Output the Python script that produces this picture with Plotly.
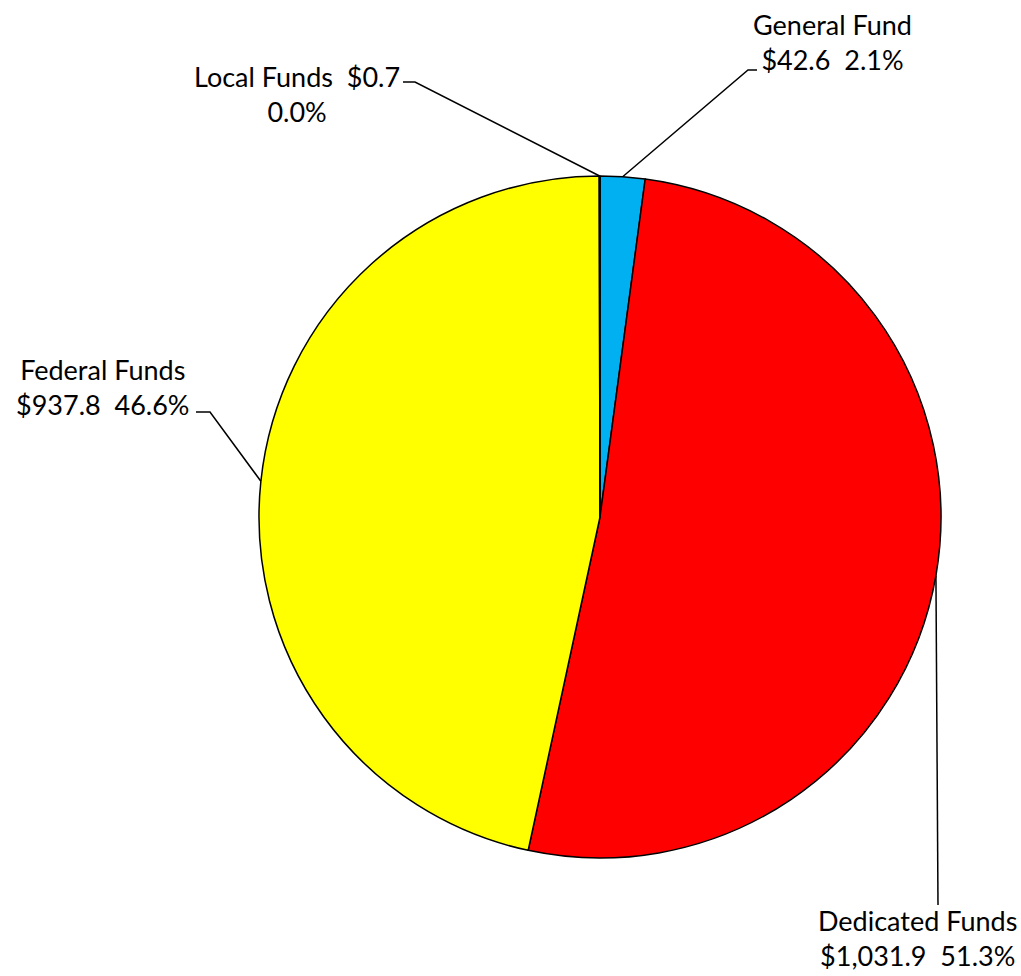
import math
import plotly.graph_objects as go

# ---- data ----
categories = ["General Fund", "Dedicated Funds", "Federal Funds", "Local Funds"]
values = [42.6, 1031.9, 937.8, 0.7]
colors = ["#00B0F0", "#FF0000", "#FFFF00", "#4472C4"]

W, H = 1021, 976
CX, CY, R = 600, 517, 341  # pie centre / radius in pixels

def px(x):
    return x / W

def py(y):
    return 1 - y / H

total = sum(values)
pcts = [v / total * 100 for v in values]

def money(v):
    return "${:,.1f}".format(v)

fig = go.Figure()
fig.add_trace(go.Pie(
    labels=categories,
    values=values,
    sort=False,
    direction="clockwise",
    rotation=0,
    marker=dict(colors=colors, line=dict(color="black", width=1.5)),
    textinfo="none",
    hoverinfo="label+value+percent",
    showlegend=False,
    domain=dict(x=[px(CX - R), px(CX + R)], y=[py(CY + R), py(CY - R)]),
))

# label layout: (text-block centre x, y), elbow point, end point of leader
label_layout = {
    "General Fund": dict(pos=(832, 42), elbow=(748, 70), end=(757, 70),
                         fmt="{name}<br>{val}\u00a0\u00a0{pct}"),
    "Dedicated Funds": dict(pos=(917, 938), elbow=(938, 905), end=(938, 905),
                            fmt="{name}<br>{val}\u00a0\u00a0{pct}"),
    "Federal Funds": dict(pos=(103, 387), elbow=(210, 412), end=(196, 412),
                          fmt="{name}<br>{val}\u00a0\u00a0{pct}"),
    "Local Funds": dict(pos=(297, 94), elbow=(415, 82), end=(403, 82),
                        fmt="{name}\u00a0\u00a0{val}<br>{pct}"),
}

font = dict(family="Lato, 'Open Sans', sans-serif", size=27, color="black")

cum = 0.0
for name, v, p in zip(categories, values, pcts):
    mid = (cum + v / 2) / total * 2 * math.pi
    cum += v
    sx = CX + R * math.sin(mid)
    sy = CY - R * math.cos(mid)
    lay = label_layout[name]
    ex, ey = lay["elbow"]
    tx, ty = lay["end"]
    path = "M {},{} L {},{} L {},{}".format(px(sx), py(sy), px(ex), py(ey), px(tx), py(ty))
    fig.add_shape(type="path", path=path, xref="paper", yref="paper",
                  line=dict(color="black", width=1.5), layer="above")
    text = lay["fmt"].format(name=name, val=money(v), pct="{:.1f}%".format(p))
    fig.add_annotation(x=px(lay["pos"][0]), y=py(lay["pos"][1]), xref="paper", yref="paper",
                       text=text, showarrow=False, xanchor="center", yanchor="middle",
                       align="center", font=font)

fig.update_layout(
    width=W, height=H,
    margin=dict(l=0, r=0, t=0, b=0),
    paper_bgcolor="white", plot_bgcolor="white",
)

fig.write_html(
    "out.html",
    config={"displayModeBar": False},
    post_script="document.body.style.margin='0';document.body.style.overflow='hidden';",
)
